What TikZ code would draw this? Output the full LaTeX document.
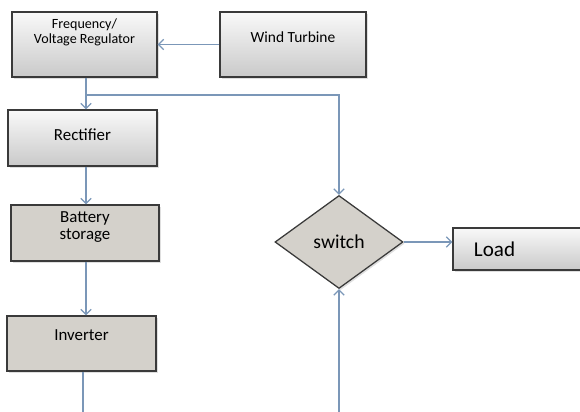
\documentclass[tikz,border=0pt]{standalone}
\usepackage{fontspec}
\setmainfont{Carlito}
\usetikzlibrary{arrows.meta, positioning, shapes.geometric, shadows}
\definecolor{boxline}{HTML}{3A3A3A}
\definecolor{boxfill}{HTML}{D4D1CB}
\definecolor{linkblue}{HTML}{7B97B8}

\begin{document}
\begin{tikzpicture}[
        x=0.025cm, y=-0.025cm,
        box/.style={draw=boxline, line width=0.9pt, align=center, inner sep=1pt,
            drop shadow={shadow xshift=1.2pt, shadow yshift=-1.2pt, opacity=0.25}},
        shadedbox/.style={box, top color=gray!5, bottom color=gray!42},
        plainbox/.style={box, fill=boxfill},
        lift/.style={text height=8pt, text depth=#1},
        link/.style={draw=linkblue, line width=0.9pt, -{Straight Barb[length=1.3mm, width=2.6mm]}}
    ]
    \useasboundingbox (0,0) rectangle (580,412);

    % Nodes
    \node[shadedbox, minimum width=3.625cm, minimum height=1.625cm, font=\fontsize{10}{10}\selectfont, text depth=19pt] (reg) at (84.5,44.5) {Frequency/\\Voltage Regulator};
    \node[shadedbox, minimum width=3.65cm, minimum height=1.625cm, font=\fontsize{11}{13}\selectfont, lift=11pt] (wind) at (293,44.5) {Wind Turbine};
    \node[shadedbox, minimum width=3.725cm, minimum height=1.4cm, font=\fontsize{12}{14}\selectfont, lift=4pt] (rect) at (82.5,138) {Rectifier};
    \node[plainbox, minimum width=3.7cm, minimum height=1.4cm, font=\fontsize{12}{12}\selectfont, text depth=10pt] (batt) at (85,233) {Battery\\storage};
    \node[plainbox, minimum width=3.725cm, minimum height=1.375cm, font=\fontsize{12}{14}\selectfont, lift=12.5pt] (inv) at (81.5,343.5) {Inverter};
    \node[box, diamond, fill=boxfill, minimum width=3.2cm, minimum height=2.325cm, font=\fontsize{14}{16}\selectfont] (sw) at (339,242) {switch};
    \node[shadedbox, minimum width=3.75cm, minimum height=1.05cm, font=\fontsize{15}{17}\selectfont, text width=2.7cm, align=left] (load) at (528,249) {Load};
    \coordinate (tap) at (86,95);
    \coordinate (bottom) at (210,430);

    % Arrows
    \draw[link] (wind.west) -- (reg.east |- wind.west);
    \draw[link] (reg.south -| tap) -- (rect.north -| tap);
    \draw[link] (tap) -| (sw.north);
    \draw[link] (rect.south -| tap) -- (batt.north -| tap);
    \draw[link] (batt.south -| tap) -- (inv.north -| tap);
    \draw[link] (inv.south -| 83,0) |- (bottom) -| (sw.south);
    \draw[link] (sw.east) -- (load.west |- sw.east);

\end{tikzpicture}
\end{document}
